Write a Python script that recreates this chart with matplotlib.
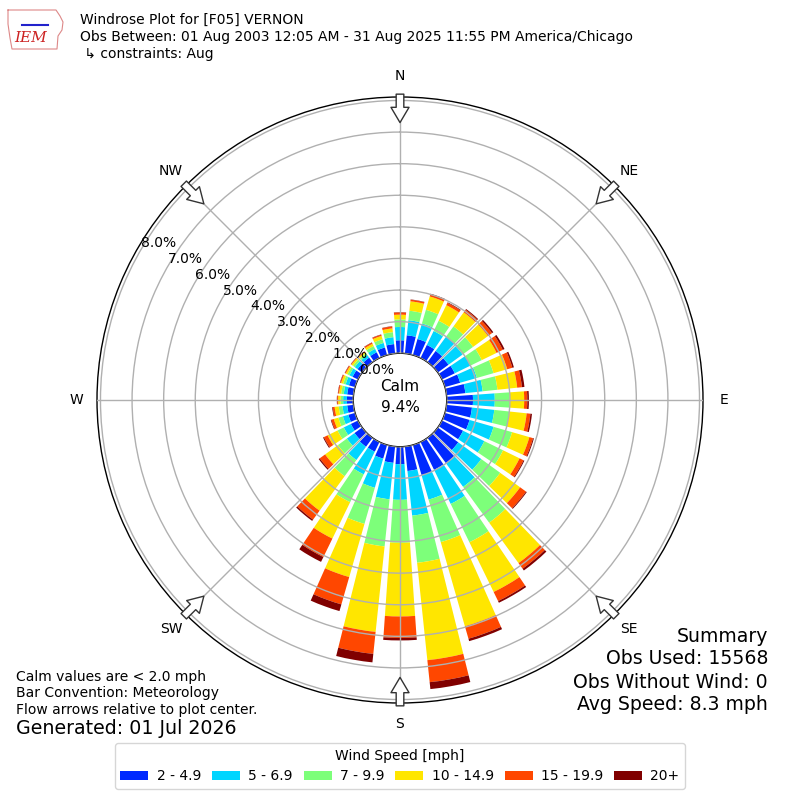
import numpy as np
import matplotlib
matplotlib.use('Agg')
from matplotlib import pyplot as plt
from matplotlib.lines import Line2D

# =============================================================================
# Data (percent of obs)
# =============================================================================
directions = np.arange(0, 360, 10)
speed_bins = ['2 - 4.9', '5 - 6.9', '7 - 9.9', '10 - 14.9', '15 - 19.9', '20+']

spd_2_5 = [.41, .58, .53, .46, .44, .42, .45, .50, .60, .83, .81, .81,
           .74, .80, .99, .98, 1.00, .78, .55, .52, .45, .34, .35, .30,
           .25, .22, .20, .20, .20, .20, .19, .18, .18, .20, .25, .30]
spd_5_7 = [.42, .48, .51, .49, .56, .55, .55, .55, .55, .69, .71, .79,
           .75, .90, .93, 1.20, .80, 1.42, 1.13, 1.16, .96, .80, .52, .30,
           .25, .18, .15, .12, .11, .11, .11, .11, .10, .12, .15, .22]
spd_7_10 = [.24, .30, .45, .36, .40, .41, .40, .55, .47, .47, .48, .61,
            .66, .74, 1.40, 1.35, 1.40, 1.50, 1.36, 1.50, 1.19, .98, .63, .35,
            .22, .15, .12, .08, .08, .08, .07, .07, .07, .10, .12, .16]
spd_10_15 = [.15, .30, .44, .55, .55, .58, .52, .45, .63, .46, .55, .57,
             .58, .78, 1.58, 1.75, 2.77, 3.10, 2.33, 2.72, 1.75, 1.28, 1.35, .50,
             .35, .15, .13, .08, .07, .07, .06, .06, .05, .08, .11, .12]
spd_15_20 = [.07, .05, .07, .08, .10, .16, .22, .17, .15, .10, .12, .12,
             .14, .23, .22, .32, .41, .70, .68, .70, .90, .65, .35, .21,
             .13, .08, .06, .03, .03, .03, .03, .02, .02, .04, .04, .06]
spd_20 = [.01, .01, .02, .02, .03, .05, .06, .05, .08, .05, .05, .03,
          .03, .03, .07, .06, .08, .22, .08, .27, .22, .17, .05, .04,
          .03, .02, .02, .01, .01, .01, .01, .01, .01, .01, .01, .01]

calm_pct = 9.4
rticks = [0, 1, 2, 3, 4, 5, 6, 7, 8]
compass = ['N', 'NE', 'E', 'SE', 'S', 'SW', 'W', 'NW']
compass_deg = [0, 45, 90, 135, 180, 225, 270, 315]

series = [spd_2_5, spd_5_7, spd_7_10, spd_10_15, spd_15_20, spd_20]
colors = plt.cm.jet(np.linspace(0, 1, 7))[1:]

# =============================================================================
# Plot
# =============================================================================
fig = plt.figure(figsize=(8, 8), dpi=100)
ax = fig.add_axes([0.12125, 0.12125, 0.7575, 0.7575], polar=True)
ax.set_theta_zero_location('N')
ax.set_theta_direction(-1)
ax.set_rorigin(-1.48)
ax.set_ylim(0, 8.11)

theta = np.deg2rad(directions)
bottom = np.zeros(len(directions))
handles = []
for vals, c, lab in zip(series, colors, speed_bins):
    vals = np.array(vals)
    b = ax.bar(theta, vals, width=np.deg2rad(8), bottom=bottom, color=c,
               label=lab, linewidth=0)
    handles.append(b)
    bottom += vals

# grid on top of the bars
ax.set_axisbelow(False)
ax.set_yticks(rticks)
ax.set_yticklabels([])
ax.set_xticks(np.deg2rad(compass_deg))
ax.set_xticklabels([])
ax.grid(True, color='#b0b0b0', lw=1)
for sp in ax.spines.values():
    sp.set_color('black')
    sp.set_linewidth(1)

# radial labels
for v in rticks:
    ax.text(np.deg2rad(300), v, '%.1f%%' % v, ha='left', va='bottom', fontsize=10)

# compass labels and flow arrows
for d, lab in zip(compass_deg, compass):
    th = np.deg2rad(d)
    ax.text(th, 8.77, lab, ha='center', va='center', fontsize=10)
    ax.annotate('', xy=(th, 7.3), xytext=(th, 8.2),
                arrowprops=dict(arrowstyle='simple,head_length=1.1,head_width=1.3,tail_width=0.55',
                                fc='white', ec='#333333', lw=1, shrinkA=0, shrinkB=0))

ax.text(0.5, 0.505, 'Calm\n%.1f%%' % calm_pct, transform=ax.transAxes,
        ha='center', va='center', fontsize=11, linespacing=1.5)

# =============================================================================
# Titles, logo and notes
# =============================================================================
fig.text(80/800, 1-20/800, 'Windrose Plot for [F05] VERNON', fontsize=10, va='center')
fig.text(80/800, 1-37/800, 'Obs Between: 01 Aug 2003 12:05 AM - 31 Aug 2025 11:55 PM America/Chicago',
         fontsize=10, va='center')
fig.text(80/800, 1-54/800, ' \u21b3 constraints: Aug', fontsize=10, va='center')

# rough state outline for the logo
logo_x = np.array([8, 56, 60, 63, 62, 58, 57, 12, 10, 8, 8]) / 800
logo_y = 1 - np.array([10, 10, 16, 22, 30, 36, 49, 49, 38, 24, 10]) / 800
fig.add_artist(Line2D(logo_x, logo_y, color='#dd8888', lw=0.8))
fig.add_artist(Line2D(np.array([22, 48]) / 800, 1 - np.array([25, 25]) / 800,
                      color='#2222cc', lw=1.5))
fig.text(31/800, 1-38/800, 'IEM', fontsize=11, color='#cc2222', style='italic',
         family='DejaVu Serif', ha='center', va='center')

fig.text(16/800, 1-677/800, 'Calm values are < 2.0 mph', fontsize=10, va='center')
fig.text(16/800, 1-693/800, 'Bar Convention: Meteorology', fontsize=10, va='center')
fig.text(16/800, 1-710/800, 'Flow arrows relative to plot center.', fontsize=10, va='center')
fig.text(16/800, 1-728/800, 'Generated: 01 Jul 2026', fontsize=13.7, va='center')

fig.text(768/800, 1-636/800, 'Summary', fontsize=13.6, ha='right', va='center')
fig.text(768/800, 1-659/800, 'Obs Used: 15568', fontsize=13.6, ha='right', va='center')
fig.text(768/800, 1-682/800, 'Obs Without Wind: 0', fontsize=13.6, ha='right', va='center')
fig.text(768/800, 1-705/800, 'Avg Speed: 8.3 mph', fontsize=13.6, ha='right', va='center')

fig.legend(handles=handles, loc='center', bbox_to_anchor=(0.5, 1-766/800), ncol=6,
           title='Wind Speed [mph]', fontsize=10, title_fontsize=10,
           columnspacing=0.8, handletextpad=0.6)

plt.savefig('out.png', dpi=100)
